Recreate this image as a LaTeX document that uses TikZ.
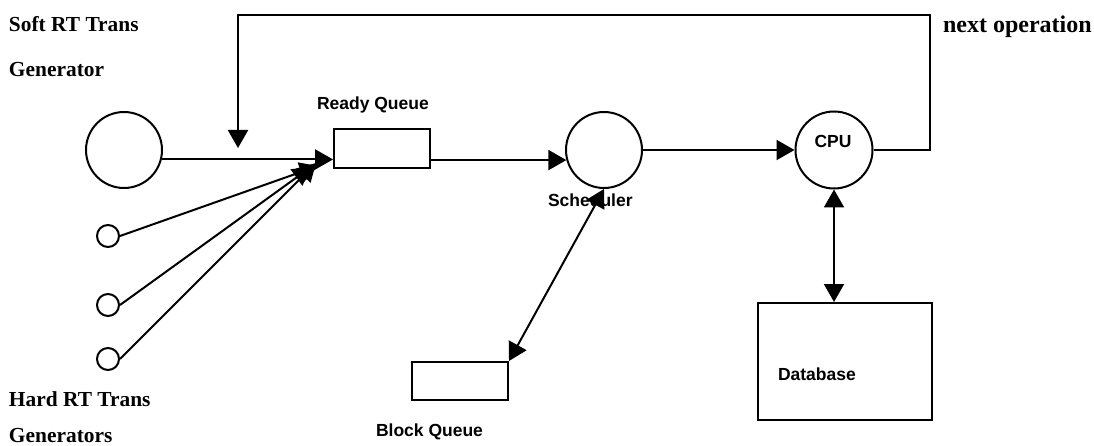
\documentclass[tikz,border=0pt]{standalone}
\usepackage{fontspec}
\setmainfont{Liberation Serif}
\setsansfont{Liberation Sans}
\usetikzlibrary{arrows.meta}

\begin{document}
\begin{tikzpicture}[x=1pt, y=-1pt, line width=2pt,
  >={Triangle[length=18pt, width=20pt]},
  gen/.style={draw, circle, inner sep=0pt},
  queue/.style={draw, rectangle, inner sep=0pt},
  txt/.style={font=\fontsize{21.4}{24}\selectfont\bfseries, inner sep=0pt},
  tag/.style={font=\fontsize{17.5}{20}\selectfont\sffamily\bfseries, inner sep=0pt}]
\useasboundingbox (0,0) rectangle (1094,446);

% generators
\node[gen, minimum size=76pt] (soft) at (124,150) {};
\node[gen, minimum size=22pt] (hardA) at (108,236) {};
\node[gen, minimum size=22pt] (hardB) at (108,305) {};
\node[gen, minimum size=22pt] (hardC) at (108,359) {};

% queues, scheduler, cpu, database
\node[queue, minimum width=96pt, minimum height=39pt] (ready) at (382,148.5) {};
\node[queue, minimum width=96pt, minimum height=38pt] (block) at (460,381) {};
\node[gen, minimum size=76pt] (sched) at (604,150) {};
\node[gen, minimum size=77pt] (cpu) at (834,150) {};
\node[queue, minimum width=174pt, minimum height=117pt] (db) at (845,361.5) {};

% texts
\node[txt, anchor=base west] (softA) at (8,32) {Soft RT Trans};
\node[txt, anchor=base west] (softB) at (8,77) {Generator};
\node[txt, anchor=base west] (hardtA) at (8,406) {Hard RT Trans};
\node[txt, anchor=base west] (hardtB) at (8,442) {Generators};
\node[font=\fontsize{24}{26}\selectfont\bfseries, inner sep=0pt, anchor=base west] (next) at (942,33) {next operation};
\node[tag, anchor=base west] (readyT) at (316,110) {Ready Queue};
\node[tag, anchor=base] (cpuT) at (833,148) {CPU};
\node[tag, anchor=base west] (schedT) at (547,207) {Scheduler};
\node[tag, anchor=base west] (blockT) at (375,436) {Block Queue};
\node[tag, anchor=base west] (dbT) at (777,380) {Database};

% ends of the arrows
\coordinate (inA) at (318,166);
\coordinate (inB) at (311,167);
\coordinate (inC) at (316,163);
\coordinate (loopR) at (930,15);
\coordinate (loopL) at (238,148);

\draw[->] (soft.-14) -- (soft.-14 -| ready.west);
\draw[->] (hardA.east) -- (inA);
\draw[->] (hardB.east) -- (inB);
\draw[->] (hardC.east) -- (inC);
\draw[->] (sched.195 -| ready.east) -- (sched.195);
\draw[->] (sched.east) -- (cpu.west);
\draw[<->] (block.north east) -- (sched.south);
\draw[<->] (cpu.south) -- (cpu.south |- db.north);
\draw[->] (cpu.east) -| (loopR) -| (loopL);
\end{tikzpicture}
\end{document}
